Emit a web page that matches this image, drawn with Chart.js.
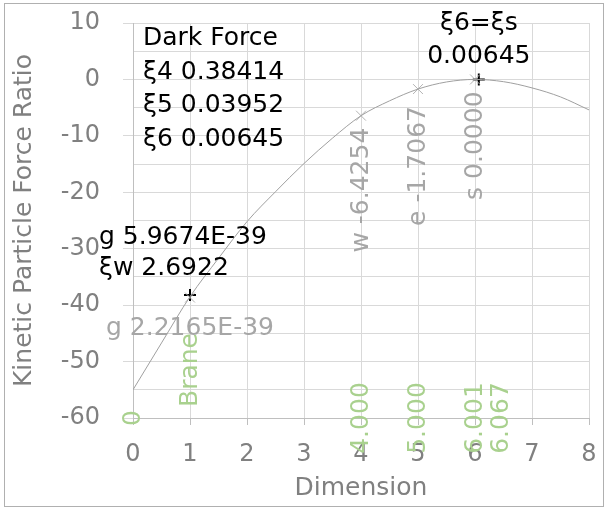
<!DOCTYPE html>
<html>
<head>
<meta charset="utf-8">
<script src="https://cdn.jsdelivr.net/npm/chart.js@4.4.1/dist/chart.umd.min.js"></script>
<style>
  html, body { margin: 0; padding: 0; background: #fff; }
  canvas { display: block; }
</style>
</head>
<body>
<canvas id="chart" width="604" height="508"></canvas>
<script>
// Fitted curve
const curveX = [0, 0.5, 1, 1.5, 2, 2.5, 3, 3.5, 4, 4.5, 5, 5.5, 6, 6.5, 7, 7.5, 8];
const curveY = [-55.0, -46.7, -38.5, -31.7, -25.2, -19.9, -14.9, -10.4, -6.43, -3.8, -1.71, -0.45, 0, -0.4, -1.5, -3.1, -5.4];

// Grey "x" points (log10 of the ratio)
const keyDims = [1, 4, 5, 6];
const keyLogRatio = [-38.654, -6.4254, -1.7067, 0];
const keyLabels = ['g 2.2165E-39', 'w -6.4254', 'e -1.7067', 's 0.0000'];

// Black "+" points
const darkDims = [1, 6.067];
const darkValues = [-38.224, 0.00645];
const darkLabels = [['g 5.9674E-39', 'ξw 2.6922'], ['ξ6=ξs', '0.00645']];

// Green labels along the bottom
const braneDims = [0, 1, 4, 5, 6.001, 6.067];
const braneBase = -60;
const braneLabels = ['0', 'Brane', '4.000', '5.000', '6.001', '6.067'];

const darkForceLines = ['Dark Force', 'ξ4 0.38414', 'ξ5 0.03952', 'ξ6 0.00645'];

const FONT = 'DejaVu Sans';

const toPts = (xs, ys) => xs.map((v, i) => ({ x: v, y: Array.isArray(ys) ? ys[i] : ys }));

const labelPlugin = {
    id: 'pointLabels',
    afterDatasetsDraw(chart) {
        const { ctx, scales: { x, y } } = chart;
        ctx.save();
        ctx.font = `25px "${FONT}"`;

        // grey labels
        ctx.fillStyle = '#a6a6a6';
        const gaps = [0, 12, 17, 12];
        keyDims.forEach((d, i) => {
            const px = x.getPixelForValue(d);
            const py = y.getPixelForValue(keyLogRatio[i]);
            if (i === 0) {
                ctx.textAlign = 'center';
                ctx.textBaseline = 'alphabetic';
                ctx.fillText(keyLabels[i], px, py + 37);
            } else {
                ctx.save();
                ctx.translate(px, py + gaps[i]);
                ctx.rotate(-Math.PI / 2);
                ctx.textAlign = 'right';
                ctx.textBaseline = 'middle';
                ctx.fillText(keyLabels[i], 0, 0);
                ctx.restore();
            }
        });

        // black labels
        ctx.fillStyle = '#000';
        ctx.textBaseline = 'alphabetic';
        darkDims.forEach((d, i) => {
            const px = x.getPixelForValue(d);
            const py = y.getPixelForValue(darkValues[i]);
            const lines = darkLabels[i];
            if (i === 0) {
                ctx.textAlign = 'left';
                ctx.fillText(lines[0], px - 91, py - 51);
                ctx.fillText(lines[1], px - 91, py - 20);
            } else {
                ctx.textAlign = 'center';
                ctx.fillText(lines[0], px, py - 49);
                ctx.fillText(lines[1], px, py - 16);
            }
        });

        // Dark Force box
        ctx.textAlign = 'left';
        const bx = x.getPixelForValue(0) + 10;
        const by = y.getPixelForValue(10) + 22;
        darkForceLines.forEach((t, i) => ctx.fillText(t, bx, by + i * 33.7));

        // green labels
        ctx.fillStyle = '#a9d18e';
        braneDims.forEach((d, i) => {
            let px = x.getPixelForValue(d);
            const py = y.getPixelForValue(braneBase);
            if (i === 5) px += 23;
            ctx.save();
            ctx.translate(px, py);
            ctx.rotate(-Math.PI / 2);
            ctx.textBaseline = 'middle';
            if (i === 1) {
                ctx.textAlign = 'left';
                ctx.fillText(braneLabels[i], 11, 0);
            } else {
                ctx.textAlign = 'center';
                ctx.fillText(braneLabels[i], 0, 0);
            }
            ctx.restore();
        });

        // outer border
        ctx.strokeStyle = '#b0b0b0';
        ctx.lineWidth = 1;
        ctx.strokeRect(4.5, 3.5, 599, 503);
        ctx.restore();
    }
};

const bgPlugin = {
    id: 'bg',
    beforeDraw(chart) {
        const { ctx } = chart;
        ctx.save();
        ctx.fillStyle = '#fff';
        ctx.fillRect(0, 0, chart.width, chart.height);
        ctx.restore();
    }
};

new Chart(document.getElementById('chart'), {
    type: 'scatter',
    data: {
        datasets: [{
            label: 'curve',
            data: toPts(curveX, curveY),
            showLine: true,
            borderColor: '#a0a0a0',
            borderWidth: 1,
            pointRadius: 0,
            cubicInterpolationMode: 'monotone'
        }, {
            label: 'key',
            data: toPts(keyDims, keyLogRatio),
            pointStyle: 'crossRot',
            pointRadius: 7,
            borderColor: '#b4b4b4',
            backgroundColor: '#b4b4b4',
            borderWidth: 1
        }, {
            label: 'dark',
            data: toPts(darkDims, darkValues),
            pointStyle: 'cross',
            pointRadius: 6,
            borderColor: '#000',
            backgroundColor: '#000',
            borderWidth: 2
        }, {
            label: 'brane',
            data: toPts(braneDims, braneBase),
            pointRadius: 0
        }]
    },
    options: {
        responsive: false,
        animation: false,
        devicePixelRatio: 1,
        layout: { padding: { top: 23, right: 15, left: 0, bottom: 0 } },
        plugins: { legend: { display: false }, tooltip: { enabled: false } },
        scales: {
            x: {
                type: 'linear',
                min: 0,
                max: 8,
                afterFit: s => { s.height = 90; s.paddingLeft = 0; s.paddingRight = 0; },
                ticks: { stepSize: 1, color: '#808080', font: { family: FONT, size: 24 }, padding: 15 },
                grid: { color: '#d9d9d9', tickColor: '#bfbfbf', tickLength: 7 },
                border: { color: '#bfbfbf' },
                title: {
                    display: true,
                    text: 'Dimension',
                    color: '#808080',
                    font: { family: FONT, size: 25 },
                    padding: { top: 0, bottom: 5 }
                }
            },
            y: {
                type: 'linear',
                min: -60,
                max: 10,
                afterFit: s => { s.width = 133; s.paddingTop = 0; s.paddingBottom = 0; },
                ticks: {
                    stepSize: 5,
                    autoSkip: false,
                    color: '#808080',
                    font: { family: FONT, size: 24 },
                    padding: 23,
                    callback: v => (v % 10 === 0 ? v : '')
                },
                grid: {
                    color: '#d9d9d9',
                    tickLength: 10,
                    tickColor: c => (c.tick && c.tick.value % 10 === 0 ? '#d9d9d9' : 'rgba(0,0,0,0)')
                },
                border: { color: '#bfbfbf' },
                title: {
                    display: true,
                    text: 'Kinetic Particle Force Ratio',
                    color: '#808080',
                    font: { family: FONT, size: 25 },
                    padding: { top: 9, bottom: 0 }
                }
            }
        }
    },
    plugins: [bgPlugin, labelPlugin]
});
</script>
</body>
</html>
